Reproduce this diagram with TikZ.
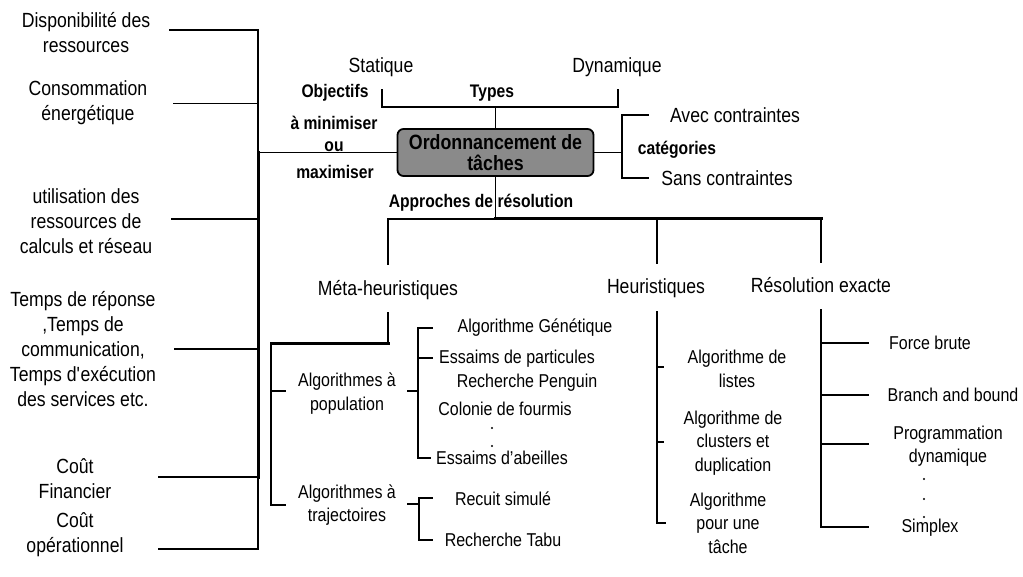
\documentclass[tikz,border=0pt]{standalone}
\usepackage{fontspec}
\setmainfont{Liberation Sans}[FakeStretch=0.86]
\definecolor{boxgray}{RGB}{138,138,138}
\begin{document}
\begin{tikzpicture}[x=1pt,y=-1pt,
  ln/.style={line width=1.6pt,line cap=rect},
  lnthick/.style={line width=3pt,line cap=rect},
  txt/.style={inner sep=0pt,align=center},
  big/.style={txt,font=\fontsize{20.5}{25}\selectfont},
  med/.style={txt,font=\fontsize{18.6}{23.5}\selectfont},
  lbl/.style={txt,font=\bfseries\fontsize{18.2}{24}\selectfont},
  mainbox/.style={draw,line width=1.8pt,rounded corners=6pt,fill=boxgray,
    minimum width=196pt,minimum height=47pt,inner sep=0pt,align=center,
    font=\bfseries\fontsize{20.7}{20.5}\selectfont},
  dot/.style={circle,fill=black,inner sep=0pt,minimum size=2.2pt}]
\useasboundingbox (0,0) rectangle (1023,577);

% central box
\node[mainbox] (box) at (495.5,152.5) {Ordonnancement de\\tâches};

% left objectives
\node[big] (dispo) at (86,32.5) {Disponibilité des\\ressources};
\node[big] (conso) at (88,102.5) {Consommation\\énergétique};
\node[big] (util) at (86,221) {utilisation des\\ressources de\\calculs et réseau};
\node[big] (temps) at (83,349) {Temps de réponse\\,Temps de\\communication,\\Temps d\textquotesingle exécution\\des services etc.};
\node[big] (fin) at (75,478.5) {Coût\\Financier};
\node[big] (oper) at (75,535) {Coût\\opérationnel};

\node[lbl] (obj) at (335,93) {Objectifs};
\node[lbl] (amin) at (334,123) {à minimiser};
\node[lbl] (ou) at (334,147) {ou};
\node[lbl] (maxi) at (335,172) {maximiser};

\coordinate (bus) at (258,152.5);
\coordinate (t1) at (170,30);
\coordinate (t2) at (174,103.5);
\coordinate (t3) at (172,219);
\coordinate (t4) at (175,349);
\coordinate (t5) at (159,477);
\coordinate (t6) at (159,549);
\draw[ln] (t1) -- (t1 -| bus);
\draw[ln] (t2) -- (t2 -| bus);
\draw[ln] (t3) -- (t3 -| bus);
\draw[ln] (t4) -- (t4 -| bus);
\draw[ln] (t5) -- (t5 -| bus);
\draw[ln] (t6) -- (t6 -| bus);
\draw[ln] (t1 -| bus) -- (bus);
\draw[lnthick] (bus) -- (t5 -| bus);
\draw[ln] (t5 -| bus) -- (t6 -| bus);
\draw[ln] (bus) -- (box.west);

% types
\node[big] (stat) at (381,67) {Statique};
\node[big] (dyn) at (617,67) {Dynamique};
\node[lbl] (types) at (492,93) {Types};
\coordinate (tyL) at (382,90);
\coordinate (tyR) at (618,90);
\coordinate (tyM) at (495.5,107);
\draw[ln] (tyL) |- (tyM) -| (tyR);
\draw[ln] (box.north) -- (tyM);

% categories
\node[big] (avec) at (735,115) {Avec contraintes};
\node[big] (sans) at (727,178) {Sans contraintes};
\node[lbl] (cat) at (677,150) {catégories};
\coordinate (catM) at (622,152.5);
\coordinate (catT) at (648,115);
\coordinate (catB) at (648,178);
\draw[ln] (box.east) -- (catM);
\draw[ln] (catT) -| (catM) |- (catB);

% approaches
\node[lbl] (appr) at (481,203) {Approches de résolution};
\coordinate (apJ) at (495.5,219);
\coordinate (metaT) at (388,264);
\coordinate (heurT) at (657,263);
\coordinate (resT) at (821,262);
\draw[ln] (box.south) -- (apJ);
\draw[ln] (apJ) -| (metaT);
\draw[lnthick] (apJ) -- (apJ -| resT);
\draw[ln] (apJ -| heurT) -- (heurT);
\draw[ln] (apJ -| resT) -- (resT);

\node[big] (meta) at (388,290) {Méta-heuristiques};
\node[big] (heur) at (656,288) {Heuristiques};
\node[big] (res) at (821,285) {Résolution exacte};

% meta-heuristics
\coordinate (m1) at (388,313);
\coordinate (m2) at (271,344);
\coordinate (mpop) at (285,391);
\coordinate (mtra) at (285,505);
\draw[ln] (m1) -- (m1 |- m2);
\draw[lnthick] (m1 |- m2) -- (m2);
\draw[ln] (m2) |- (mtra);
\draw[ln] (mpop -| m2) -- (mpop);

\node[med] (pop) at (347,393.5) {Algorithmes à\\population};
\node[med] (traj) at (347,505) {Algorithmes à\\trajectoires};

\node[med] (ag) at (535,328) {Algorithme Génétique};
\node[med] (pso) at (517,359) {Essaims de particules};
\node[med] (peng) at (527,383) {Recherche Penguin};
\node[med] (aco) at (505,409) {Colonie de fourmis};
\node[dot] (d1) at (492,428) {};
\node[dot] (d2) at (492,446) {};
\node[med] (abc) at (502,458) {Essaims d’abeilles};

\coordinate (ps) at (408,391);
\coordinate (pv) at (418,391);
\coordinate (pt1) at (432,328);
\coordinate (pt2) at (432,358);
\coordinate (pt3) at (430,458);
\draw[ln] (ps) -- (pv);
\draw[ln] (pt1) -| (pv) |- (pt3);
\draw[ln] (pt2 -| pv) -- (pt2);

\node[med] (recuit) at (503,499) {Recuit simulé};
\node[med] (tabu) at (503,540) {Recherche Tabu};
\coordinate (ts) at (408,504);
\coordinate (tv) at (419,504);
\coordinate (tt1) at (432,498);
\coordinate (tt2) at (432,540);
\draw[ln] (ts) -- (tv);
\draw[ln] (tt1) -| (tv) |- (tt2);

% heuristics
\coordinate (h0) at (657,312);
\coordinate (h1) at (663,367);
\coordinate (h2) at (663,442);
\coordinate (h3) at (665,523);
\draw[ln] (h0) |- (h3);
\draw[ln] (h1 -| h0) -- (h1);
\draw[ln] (h2 -| h0) -- (h2);
\node[med] (liste) at (737,369) {Algorithme de\\listes};
\node[med] (clus) at (733,443) {Algorithme de\\clusters et\\duplication};
\node[med] (une) at (728,523) {Algorithme\\pour une\\tâche};

% exact
\coordinate (r0) at (821,310);
\coordinate (r1) at (868,343);
\coordinate (r2) at (868,395);
\coordinate (r3) at (868,444);
\coordinate (r4) at (868,527);
\draw[ln] (r0) |- (r4);
\draw[ln] (r1 -| r0) -- (r1);
\draw[ln] (r2 -| r0) -- (r2);
\draw[ln] (r3 -| r0) -- (r3);
\node[med] (force) at (930,343) {Force brute};
\node[med] (bb) at (953,395) {Branch and bound};
\node[med] (prog) at (948,446) {Programmation\\dynamique};
\node[dot] (d3) at (924,479) {};
\node[dot] (d4) at (924,499) {};
\node[dot] (d5) at (924,517) {};
\node[med] (simp) at (930,528) {Simplex};
\end{tikzpicture}
\end{document}
